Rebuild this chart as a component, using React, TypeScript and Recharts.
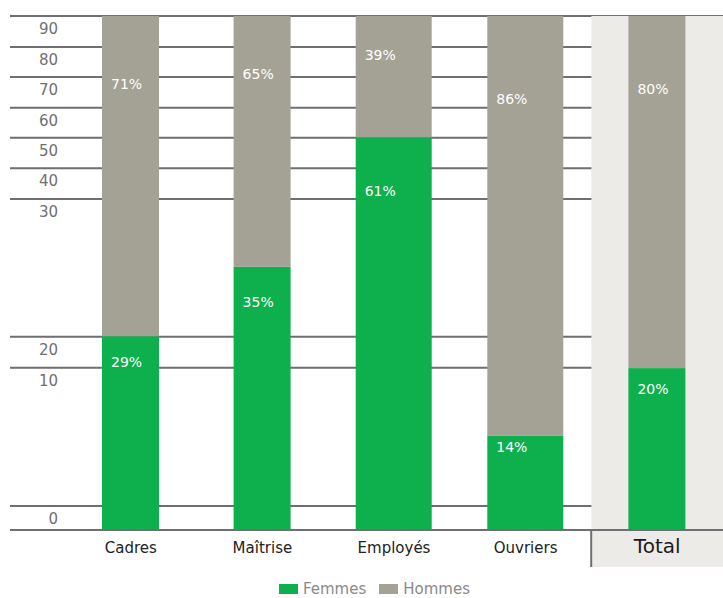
import { BarChart, Bar, XAxis, YAxis, CartesianGrid, ReferenceArea, Legend, LabelList } from 'recharts'

const categories = ['Cadres', 'Maîtrise', 'Employés', 'Ouvriers', 'Total']
// bar heights as drawn (share of the column)
const femmes = [37.7, 51.2, 76.4, 18.4, 31.5]
const hommes = [62.3, 48.8, 23.6, 81.6, 68.5]
// printed labels
const femmesLabels = ['29%', '35%', '61%', '14%', '20%']
const hommesLabels = ['71%', '65%', '39%', '86%', '80%']
// y gridlines and their labels
const yTicks = [4.67, 31.58, 37.61, 64.4, 70.37, 76.32, 82.16, 88.13, 93.97, 100]
const yTickLabels = ['0', '10', '20', '30', '40', '50', '60', '70', '80', '90']
const wideCats = ['Employés', 'Ouvriers']

const GREEN = '#0db04c'
const GREY = '#a4a294'
const BAND = '#ecebe7'
const LINE = '#6e6e73'
const FONT = '"DejaVu Sans", Verdana, sans-serif'

const data = categories.map((name, i) => ({
    name,
    femmes: femmes[i],
    hommes: hommes[i],
    femmesLabel: femmesLabels[i],
    hommesLabel: hommesLabels[i],
}))

const barShape = (props: any) => {
    const { x, y, width, height, fill, index } = props
    const name = props.payload?.name ?? categories[index]
    const w = wideCats.includes(name) ? 76 : width
    return <rect x={x + width / 2 - w / 2} y={y} width={w} height={height} fill={fill} />
}

// label sits a bit below the top of its segment
const makeLabel = (base: number, k: number) => (props: any) => {
    const { x, y, width, height, value, index } = props
    const wide = wideCats.includes(categories[index])
    const left = wide ? x + width / 2 - 38 : x
    return (
        <text x={left + 9} y={y + base + k * height} dominantBaseline="central" fill="#fff" fontSize={14} fontFamily={FONT}>
            {value}
        </text>
    )
}

const YTick = (props: any) => {
    const { x, y, payload, index } = props
    let i = yTicks.indexOf(payload?.value)
    if (i < 0) i = index
    return (
        <text x={x + 48} y={y + 13} textAnchor="end" dominantBaseline="central" fill="#707070" fontSize={15} fontFamily={FONT}>
            {yTickLabels[i]}
        </text>
    )
}

const XTick = (props: any) => {
    const { x, y, payload } = props
    if (payload.value === 'Total') {
        return (
            <g>
                <rect x={x - 66} y={y + 1} width={140} height={36} fill={BAND} />
                <line x1={x - 66} x2={x - 66} y1={y} y2={y + 37} stroke={LINE} strokeWidth={2} />
                <text x={x} y={y + 16} textAnchor="middle" dominantBaseline="central" fill="#1a1a1a" fontSize={20} fontFamily={FONT}>
                    {payload.value}
                </text>
            </g>
        )
    }
    return (
        <text x={x} y={y + 18} textAnchor="middle" dominantBaseline="central" fill="#222" fontSize={15} fontFamily={FONT}>
            {payload.value}
        </text>
    )
}

const renderLegend = (props: any) => (
    <div style={{ display: 'flex', justifyContent: 'center', alignItems: 'center', paddingLeft: 30, height: 18, fontFamily: FONT, fontSize: 15, lineHeight: '18px', color: '#8a8a8a' }}>
        {(props.payload || []).map((p: any) => (
            <span key={p.value} style={{ display: 'flex', alignItems: 'center', marginRight: 13 }}>
                <span style={{ display: 'inline-block', width: 19, height: 10, background: p.color, marginRight: 5 }} />
                {p.value}
            </span>
        ))}
    </div>
)

export default function App() {
    return (
        <div style={{ position: 'absolute', left: 0, top: 0 }}>
            <BarChart width={723} height={598} data={data} margin={{ top: 16, right: 0, left: 9, bottom: 0 }} barSize={57} style={{ fontFamily: FONT }}>
                <ReferenceArea x1="Total" x2="Total" y1={0} y2={100} fill={BAND} fillOpacity={1} stroke="none" />
                <CartesianGrid vertical={false} stroke={LINE} strokeWidth={2} />
                <XAxis
                    dataKey="name"
                    height={50}
                    padding={{ left: 55, right: 0 }}
                    axisLine={{ stroke: LINE, strokeWidth: 2 }}
                    tickLine={false}
                    tickSize={0}
                    tickMargin={0}
                    interval={0}
                    tick={<XTick />}
                />
                <YAxis
                    type="number"
                    domain={[0, 100]}
                    ticks={yTicks}
                    interval={0}
                    width={1}
                    axisLine={false}
                    tickLine={false}
                    tickSize={0}
                    tickMargin={0}
                    tick={<YTick />}
                />
                <Legend verticalAlign="bottom" height={18} wrapperStyle={{ height: 18 }} content={renderLegend} />
                <Bar dataKey="femmes" name="Femmes" stackId="a" fill={GREEN} shape={barShape} isAnimationActive={false}>
                    <LabelList dataKey="femmesLabel" content={makeLabel(-2, 0.141)} />
                </Bar>
                <Bar dataKey="hommes" name="Hommes" stackId="a" fill={GREY} shape={barShape} isAnimationActive={false}>
                    <LabelList dataKey="hommesLabel" content={makeLabel(20.4, 0.15)} />
                </Bar>
            </BarChart>
        </div>
    )
}
